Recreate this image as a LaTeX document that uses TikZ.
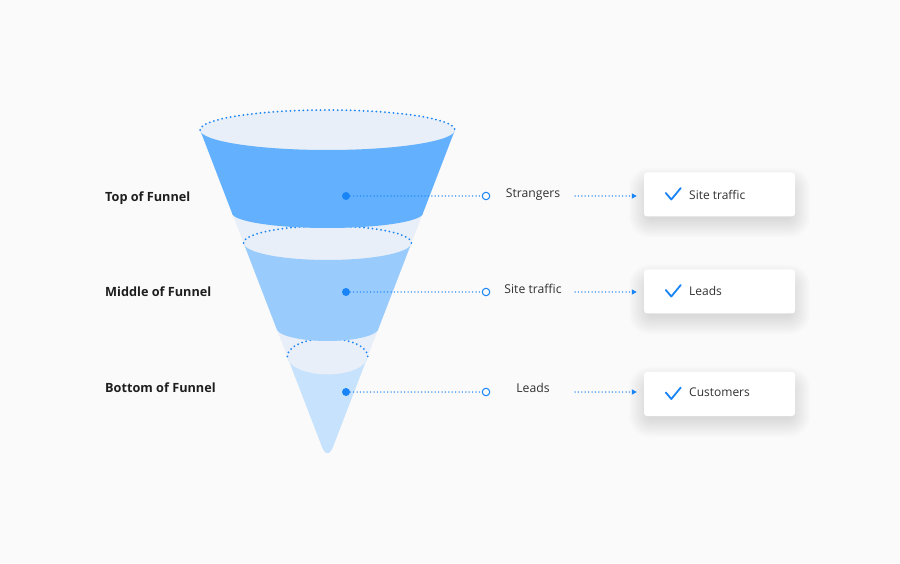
\documentclass[tikz,border=0pt]{standalone}
\usepackage{fontspec}
\setmainfont{Open Sans}
\usetikzlibrary{arrows.meta}
\definecolor{bg}{RGB}{250,250,250}
\definecolor{bandA}{RGB}{99,177,254}
\definecolor{bandB}{RGB}{153,204,253}
\definecolor{bandC}{RGB}{198,226,253}
\definecolor{face}{RGB}{232,239,248}
\definecolor{accent}{RGB}{24,132,245}
\definecolor{ink}{RGB}{30,30,30}
\definecolor{soft}{RGB}{50,50,50}
\begin{document}
\begin{tikzpicture}[x=1pt,y=1pt,
  rimdots/.style={draw=accent, line width=2pt, line cap=round, dash pattern=on 0pt off 4.3pt},
  linkdots/.style={draw=accent, line width=1.5pt, line cap=round, dash pattern=on 0pt off 3.4pt},
  hub/.style={circle, fill=accent, inner sep=0pt, minimum size=8pt},
  ring/.style={circle, draw=accent, line width=1pt, fill=bg, inner sep=0pt, minimum size=7.5pt},
  stage/.style={font=\bfseries\fontsize{12.7}{14}\selectfont, text=ink, anchor=base west, inner sep=0pt},
  flow/.style={font=\fontsize{12.2}{14}\selectfont, text=soft, anchor=base, inner sep=0pt},
  card/.style={fill=white, rounded corners=3pt, minimum width=151pt, minimum height=44pt, inner sep=0pt},
  cardtext/.style={font=\fontsize{12}{14}\selectfont, text=soft, anchor=base west, inner sep=0pt},
  tick/.style={draw=accent, line width=1.8pt, line cap=round, line join=round},
  arrowdots/.style={linkdots, -{Triangle[length=5pt,width=5pt]}, shorten >=7pt},
  haze/.style={fill=black, fill opacity=0.0075},
]
% background / bounding box
\fill[bg] (0,0) rectangle (900,563);
\useasboundingbox (0,0) rectangle (900,563);

% cone silhouette (light face colour)
\fill[face] (200.1,433) -- (321.75,116.93) .. controls (325,107.5) and (330,107.5) .. (333.25,116.93) -- (454.9,433)
  arc[start angle=0, end angle=180, x radius=127.4pt, y radius=20pt] -- cycle;

% bottom band
\fill[bandC] (287.3,206.5) -- (321.75,116.93) .. controls (325,107.5) and (330,107.5) .. (333.25,116.93) -- (367.7,206.5)
  arc[start angle=0, end angle=-180, x radius=40.2pt, y radius=18pt] -- cycle;
\draw[rimdots] (287.3,206.5) arc[start angle=180, end angle=0, x radius=40.2pt, y radius=18pt];

% middle band
\fill[bandB] (243.6,320) -- (276.3,235)
  arc[start angle=180, end angle=360, x radius=51.2pt, y radius=13pt] -- (411.4,320)
  arc[start angle=0, end angle=-180, x radius=83.9pt, y radius=17pt] -- cycle;
\draw[rimdots] (243.6,320) arc[start angle=180, end angle=0, x radius=83.9pt, y radius=17pt];

% top band
\fill[bandA] (200.1,433) -- (232.0,350)
  arc[start angle=180, end angle=360, x radius=95.5pt, y radius=15pt] -- (454.9,433)
  arc[start angle=0, end angle=-180, x radius=127.4pt, y radius=20pt] -- cycle;
\draw[rimdots] (200.1,433) arc[start angle=180, end angle=0, x radius=127.4pt, y radius=20pt];

% stage labels
\node[stage] (t1) at (105,361.5) {Top of Funnel};
\node[stage] (t2) at (105,266.5) {Middle of Funnel};
\node[stage] (t3) at (105,170.5) {Bottom of Funnel};

% hubs and rings
\node[hub] (d1) at (346,367) {};
\node[hub] (d2) at (346,271) {};
\node[hub] (d3) at (346,171) {};
\node[ring] (r1) at (486,367) {};
\node[ring] (r2) at (486,271) {};
\node[ring] (r3) at (486,171) {};
\draw[linkdots] (d1) -- (r1);
\draw[linkdots] (d2) -- (r2);
\draw[linkdots] (d3) -- (r3);

% flow labels
\node[flow] (f1) at (533,365) {Strangers};
\node[flow] (f2) at (533,269) {Site traffic};
\node[flow] (f3) at (533,170.3) {Leads};

% soft card shadows
\foreach \cy in {368.5,271.5,169}{
  \foreach \k in {1,...,16}{
    \fill[haze, rounded corners=(5+\k)*1pt]
      (719.5-71.5-1.2*\k, \cy-8-16-1.2*\k) rectangle (719.5+71.5+1.2*\k, \cy-8+16+1.2*\k);
  }
}

% cards
\node[card] (c1) at (719.5,368.5) {};
\node[card] (c2) at (719.5,271.5) {};
\node[card] (c3) at (719.5,169) {};

% arrows
\coordinate (s1) at (575,367);
\coordinate (s2) at (575,271);
\coordinate (s3) at (575,171);
\draw[arrowdots] (s1) -- (c1.west |- s1);
\draw[arrowdots] (s2) -- (c2.west |- s2);
\draw[arrowdots] (s3) -- (c3.west |- s3);

% ticks
\foreach \c in {c1,c2,c3}{
  \draw[tick] ([xshift=22pt,yshift=1.5pt]\c.west) -- ([xshift=27.5pt,yshift=-5pt]\c.west) -- ([xshift=37pt,yshift=6.5pt]\c.west);
}

% card texts
\node[cardtext] (k1) at (689,363.7) {Site traffic};
\node[cardtext] (k2) at (689,267.3) {Leads};
\node[cardtext] (k3) at (689,166.3) {Customers};
\end{tikzpicture}
\end{document}
